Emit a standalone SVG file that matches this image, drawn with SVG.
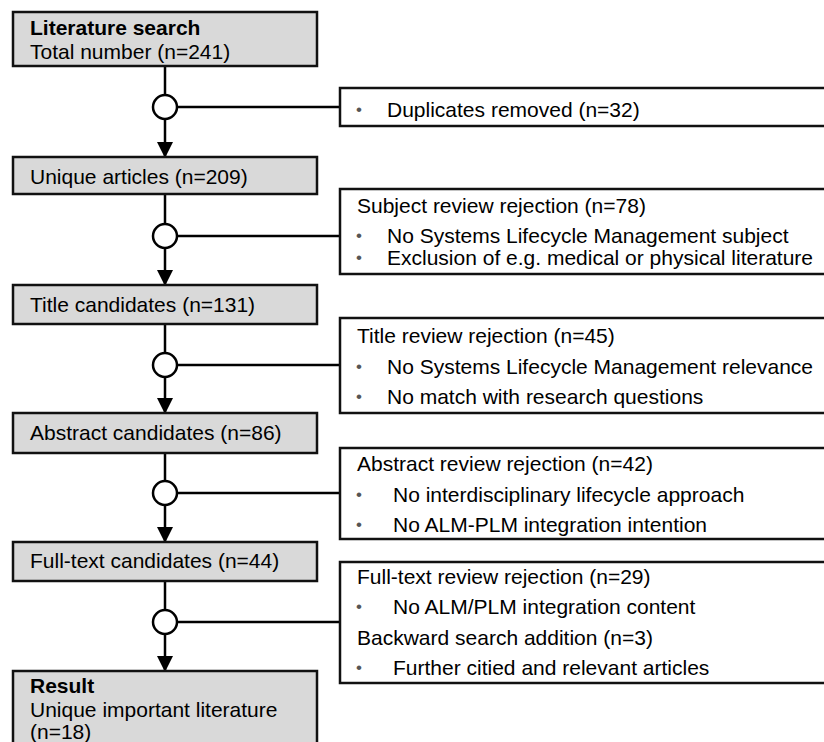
<svg xmlns="http://www.w3.org/2000/svg" width="824" height="742" viewBox="0 0 824 742">
<defs>
<style>
.box{fill:#d9d9d9;stroke:#111;stroke-width:2.5}
.rbox{fill:#fff;stroke:#111;stroke-width:2.5}
.t{font-family:"Liberation Sans",Arial,sans-serif;font-size:21px;fill:#000}
.b{font-weight:bold}
.bul{font-family:"Liberation Sans",Arial,sans-serif;font-size:17px;fill:#555}
.ln{stroke:#000;stroke-width:2.5;fill:none}
.ci{fill:#fff;stroke:#000;stroke-width:2.5}
</style>
<marker id="ah" markerUnits="userSpaceOnUse" markerWidth="16" markerHeight="16" refX="15" refY="8" orient="auto">
<path d="M0,0 L16,8 L0,16 z" fill="#000"/>
</marker>
</defs>
<g id="connectors">
<line class="ln" x1="165" y1="66" x2="165" y2="95"/>
<line class="ln" x1="165" y1="119" x2="165" y2="157" marker-end="url(#ah)"/>
<line class="ln" x1="177" y1="107" x2="340" y2="107"/>
<circle class="ci" cx="165" cy="107" r="12"/>
<line class="ln" x1="165" y1="194" x2="165" y2="224"/>
<line class="ln" x1="165" y1="248" x2="165" y2="285" marker-end="url(#ah)"/>
<line class="ln" x1="177" y1="236" x2="340" y2="236"/>
<circle class="ci" cx="165" cy="236" r="12"/>
<line class="ln" x1="165" y1="324" x2="165" y2="353"/>
<line class="ln" x1="165" y1="377" x2="165" y2="413" marker-end="url(#ah)"/>
<line class="ln" x1="177" y1="365" x2="340" y2="365"/>
<circle class="ci" cx="165" cy="365" r="12"/>
<line class="ln" x1="165" y1="453" x2="165" y2="481"/>
<line class="ln" x1="165" y1="505" x2="165" y2="542" marker-end="url(#ah)"/>
<line class="ln" x1="177" y1="493" x2="340" y2="493"/>
<circle class="ci" cx="165" cy="493" r="12"/>
<line class="ln" x1="165" y1="581" x2="165" y2="610"/>
<line class="ln" x1="165" y1="634" x2="165" y2="671" marker-end="url(#ah)"/>
<line class="ln" x1="177" y1="622" x2="340" y2="622"/>
<circle class="ci" cx="165" cy="622" r="12"/>
</g>
<g id="lit">
<rect class="box" x="13" y="12" width="304" height="54"/>
<text class="t b" x="30" y="35">Literature search</text>
<text class="t" x="30" y="59">Total number (n=241)</text>
</g>
<g id="unique">
<rect class="box" x="13" y="157" width="304" height="37"/>
<text class="t" x="30" y="184">Unique articles (n=209)</text>
</g>
<g id="title">
<rect class="box" x="13" y="285" width="304" height="39"/>
<text class="t" x="30" y="312">Title candidates (n=131)</text>
</g>
<g id="abstract">
<rect class="box" x="13" y="413" width="304" height="40"/>
<text class="t" x="30" y="440">Abstract candidates (n=86)</text>
</g>
<g id="fulltext">
<rect class="box" x="13" y="542" width="304" height="39"/>
<text class="t" x="30" y="568">Full-text candidates (n=44)</text>
</g>
<g id="result">
<rect class="box" x="13" y="671" width="304" height="90"/>
<text class="t b" x="30" y="693">Result</text>
<text class="t" x="30" y="717">Unique important literature</text>
<text class="t" x="30" y="739">(n=18)</text>
</g>
<g id="dup">
<rect class="rbox" x="340" y="88" width="500" height="38"/>
<text class="bul" x="356" y="115">•</text>
<text class="t" x="387" y="117">Duplicates removed (n=32)</text>
</g>
<g id="subjrej">
<rect class="rbox" x="340" y="189" width="500" height="85"/>
<text class="t" x="357" y="213">Subject review rejection (n=78)</text>
<text class="bul" x="356" y="241">•</text>
<text class="t" x="387" y="243">No Systems Lifecycle Management subject</text>
<text class="bul" x="356" y="263">•</text>
<text class="t" x="387" y="265">Exclusion of e.g. medical or physical literature</text>
</g>
<g id="titlerej">
<rect class="rbox" x="340" y="318" width="500" height="95"/>
<text class="t" x="357" y="343">Title review rejection (n=45)</text>
<text class="bul" x="356" y="372">•</text>
<text class="t" x="387" y="374">No Systems Lifecycle Management relevance</text>
<text class="bul" x="356" y="402">•</text>
<text class="t" x="387" y="404">No match with research questions</text>
</g>
<g id="absrej">
<rect class="rbox" x="340" y="448" width="500" height="91"/>
<text class="t" x="357" y="471">Abstract review rejection (n=42)</text>
<text class="bul" x="356" y="500">•</text>
<text class="t" x="393" y="502">No interdisciplinary lifecycle approach</text>
<text class="bul" x="356" y="530">•</text>
<text class="t" x="393" y="532">No ALM-PLM integration intention</text>
</g>
<g id="fullrej">
<rect class="rbox" x="340" y="562" width="500" height="121"/>
<text class="t" x="357" y="584">Full-text review rejection (n=29)</text>
<text class="bul" x="356" y="612">•</text>
<text class="t" x="393" y="614">No ALM/PLM integration content</text>
<text class="t" x="357" y="645">Backward search addition (n=3)</text>
<text class="bul" x="356" y="673">•</text>
<text class="t" x="393" y="675">Further citied and relevant articles</text>
</g>
</svg>
